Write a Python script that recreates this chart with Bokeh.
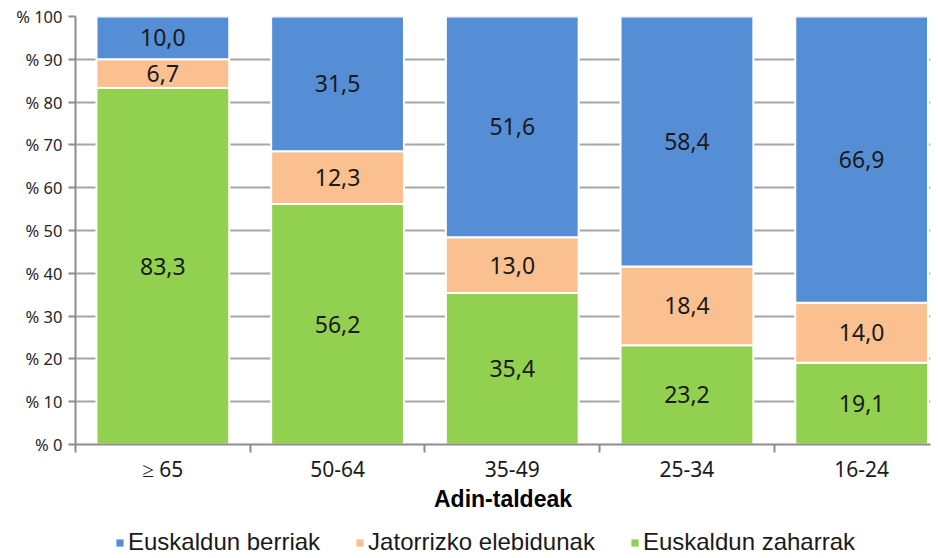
from bokeh.plotting import figure
from bokeh.layouts import column
from bokeh.models import (ColumnDataSource, Range1d, FixedTicker, Legend, LegendItem, LabelSet)
from bokeh.core.properties import value
from bokeh.embed import file_html
from bokeh.resources import INLINE

categories = ["≥ 65", "50-64", "35-49", "25-34", "16-24"]
zaharrak = [83.3, 56.2, 35.4, 23.2, 19.1]      # Euskaldun zaharrak
jatorrizko = [6.7, 12.3, 13.0, 18.4, 14.0]     # Jatorrizko elebidunak
berriak = [10.0, 31.5, 51.6, 58.4, 66.9]       # Euskaldun berriak
y_ticks = [0, 10, 20, 30, 40, 50, 60, 70, 80, 90, 100]
series_names = ["Euskaldun berriak", "Jatorrizko elebidunak", "Euskaldun zaharrak"]

colors = {"zaharrak": "#92D050", "jatorrizko": "#FAC090", "berriak": "#558ED5"}
xs = list(range(len(categories)))

src = ColumnDataSource(dict(x=xs, zaharrak=zaharrak, jatorrizko=jatorrizko, berriak=berriak))

p = figure(width=938, height=520, output_backend="svg", toolbar_location=None,
           x_range=Range1d(-0.5, 4.394), y_range=Range1d(0, 100),
           min_border_left=75, min_border_right=8, min_border_top=16, min_border_bottom=76)
p.outline_line_color = None
p.background_fill_color = "white"

stack_cols = ["zaharrak", "jatorrizko", "berriak"]
stack_colors = [colors["zaharrak"], colors["jatorrizko"], colors["berriak"]]
renderers = p.vbar_stack(stack_cols, x="x", width=0.76, source=src,
                         color=stack_colors, line_color="white", line_width=2)

def fmt(v):
    return f"{v:.1f}".replace(".", ",")

lx, ly, lt = [], [], []
for i in xs:
    base = 0
    for v in (zaharrak[i], jatorrizko[i], berriak[i]):
        lx.append(i)
        ly.append(base + v / 2)
        lt.append(fmt(v))
        base += v
lsrc = ColumnDataSource(dict(x=lx, y=ly, t=lt))
labels = LabelSet(x="x", y="y", text="t", source=lsrc, text_align="center", text_baseline="middle",
                  text_font=value("Noto Sans"), text_font_size=value("23px"), text_color="#1a1a1a")
p.add_layout(labels)

# y axis
p.yaxis.ticker = FixedTicker(ticks=y_ticks, minor_ticks=[])
p.yaxis.major_label_overrides = {t: f"% {t}" for t in y_ticks}
p.yaxis.major_label_text_font = "Noto Sans"
p.yaxis.major_label_text_font_size = "16.5px"
p.yaxis.major_label_text_color = "#262626"
p.yaxis.axis_line_color = "#8c8c8c"
p.yaxis.axis_line_width = 2
p.yaxis.major_tick_line_color = "#8c8c8c"
p.yaxis.major_tick_line_width = 2
p.yaxis.major_tick_in = 0
p.yaxis.major_tick_out = 7
p.yaxis.major_label_standoff = 6

# x axis
p.xaxis.ticker = FixedTicker(ticks=xs, minor_ticks=[-0.5, 0.5, 1.5, 2.5, 3.5])
p.xaxis.major_label_overrides = {i: c for i, c in zip(xs, categories)}
p.xaxis.major_label_text_font = "Noto Sans"
p.xaxis.major_label_text_font_size = "21px"
p.xaxis.major_label_text_color = "#1a1a1a"
p.xaxis.axis_line_color = "#8c8c8c"
p.xaxis.axis_line_width = 2
p.xaxis.major_tick_in = 0
p.xaxis.major_tick_out = 0
p.xaxis.minor_tick_in = 0
p.xaxis.minor_tick_out = 8
p.xaxis.minor_tick_line_color = "#8c8c8c"
p.xaxis.minor_tick_line_width = 2
p.xaxis.major_label_standoff = 2
p.xaxis.axis_label = "Adin-taldeak"
p.xaxis.axis_label_text_font = "Liberation Sans"
p.xaxis.axis_label_text_font_style = "bold"
p.xaxis.axis_label_text_font_size = "23px"
p.xaxis.axis_label_text_color = "#000000"
p.xaxis.axis_label_standoff = 0

p.xgrid.grid_line_color = None
p.ygrid.grid_line_color = "#a6a6a6"
p.ygrid.grid_line_width = 2

# legend strip: a small figure below the chart; its bars lie outside its visible range,
# so only the legend (with the series' colour swatches) shows
p2 = figure(width=938, height=38, output_backend="svg", toolbar_location=None,
            x_range=Range1d(-0.5, 4.5), y_range=Range1d(200, 201),
            x_axis_location=None, y_axis_location=None,
            min_border_left=0, min_border_right=0, min_border_top=0, min_border_bottom=0)
p2.outline_line_color = None
p2.xgrid.grid_line_color = None
p2.ygrid.grid_line_color = None
leg_r = p2.vbar_stack(stack_cols, x="x", width=0.76, source=src,
                      color=stack_colors, line_color=None)
leg_map = {"zaharrak": leg_r[0], "jatorrizko": leg_r[1], "berriak": leg_r[2]}
order = ["berriak", "jatorrizko", "zaharrak"]

legend = Legend(items=[LegendItem(label=n, renderers=[leg_map[k]]) for n, k in zip(series_names, order)],
                orientation="horizontal", location=(40, 2))
legend.label_text_font = "Liberation Sans"
legend.label_text_font_size = "24px"
legend.label_text_color = "#1a1a1a"
legend.glyph_width = 9
legend.glyph_height = 9
legend.spacing = 35
legend.label_standoff = 4
legend.border_line_color = None
legend.background_fill_alpha = 0
legend.padding = 0
legend.margin = 0
p2.add_layout(legend, "center")

layout = column(p, p2, spacing=0)
open("out.html", "w").write(file_html(layout, INLINE))
